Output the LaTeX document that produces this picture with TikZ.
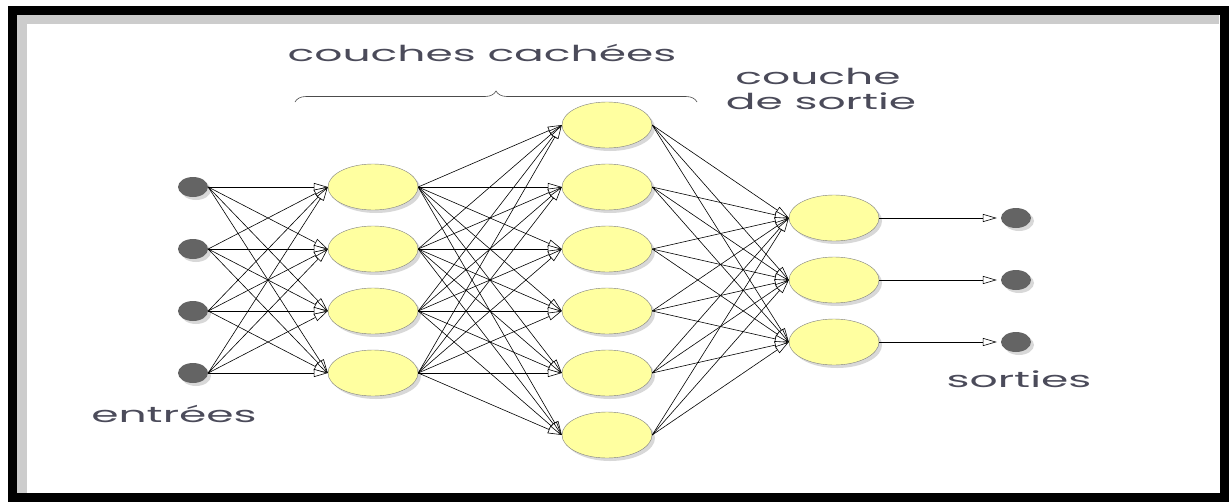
\documentclass[tikz,border=0pt]{standalone}
\usepackage{fontspec}
\setmainfont{Poppins}
\usetikzlibrary{arrows.meta,shadows,shapes.geometric,decorations.pathreplacing}
\definecolor{neurone}{RGB}{255,255,160}
\definecolor{point}{RGB}{100,100,100}
\definecolor{texte}{RGB}{75,75,90}
\newcommand{\etire}[1]{\scalebox{2.0}[1]{#1}}
\tikzset{
  neur/.style={ellipse,draw=gray,fill=neurone,minimum width=90pt,minimum height=46pt,inner sep=0pt,
    drop shadow={shadow xshift=3pt,shadow yshift=-3pt,opacity=.3}},
  pt/.style={ellipse,fill=point,minimum width=30pt,minimum height=20pt,inner sep=0pt,
    drop shadow={shadow xshift=3pt,shadow yshift=-3pt,opacity=.3}},
  lien/.style={black,line width=.6pt,-{Triangle[open,length=14pt,width=8pt,fill=white]}},
  lbl/.style={text=texte,font=\fontsize{22}{24}\selectfont,inner sep=0pt}
}
\begin{document}
\begin{tikzpicture}[x=1pt,y=-1pt]
            \useasboundingbox (0,0) rectangle (1229,501);
            \fill[white] (0,0) rectangle (1229,501);
            % cadre
            \fill[gray!40] (17,14) rectangle (1219,24);
            \fill[gray!40] (17,14) rectangle (27,493);
            \draw[black,line width=9pt] (12,10) rectangle (1224,497);
            % entrees
            \node[pt] (e1) at (193,187) {};
            \node[pt] (e2) at (193,249) {};
            \node[pt] (e3) at (193,311) {};
            \node[pt] (e4) at (193,373) {};
            % couche cachee 1
            \node[neur] (a1) at (373,187) {};
            \node[neur] (a2) at (373,249) {};
            \node[neur] (a3) at (373,311) {};
            \node[neur] (a4) at (373,373) {};
            % couche cachee 2
            \node[neur] (b1) at (607,125) {};
            \node[neur] (b2) at (607,187) {};
            \node[neur] (b3) at (607,249) {};
            \node[neur] (b4) at (607,311) {};
            \node[neur] (b5) at (607,373) {};
            \node[neur] (b6) at (607,435) {};
            % couche de sortie
            \node[neur] (c1) at (834,218) {};
            \node[neur] (c2) at (834,280) {};
            \node[neur] (c3) at (834,342) {};
            % sorties
            \node[pt] (s1) at (1016,218) {};
            \node[pt] (s2) at (1016,280) {};
            \node[pt] (s3) at (1016,342) {};
            % liens
            \foreach \i in {1,...,4}
              \foreach \j in {1,...,4}
                \draw[lien] (e\i.east) -- (a\j.west);
            \foreach \i in {1,...,4}
              \foreach \j in {1,...,6}
                \draw[lien] (a\i.east) -- (b\j.west);
            \foreach \i in {1,...,6}
              \foreach \j in {1,...,3}
                \draw[lien] (b\i.east) -- (c\j.west);
            \foreach \i in {1,2,3}
              \draw[lien,shorten >=4pt] (c\i.east) -- (s\i.west);
            % textes
            \node[lbl] (tcach) at (482,53) {\etire{couches cachées}};
            \node[lbl] (tcouche) at (818,76) {\etire{couche}};
            \node[lbl] (tsortie) at (821,101) {\etire{de sortie}};
            \node[lbl] (tsorties) at (1019,379) {\etire{sorties}};
            \node[lbl] (tentrees) at (174,414) {\etire{entrées}};
            \draw[black!70,line width=.6pt,decorate,decoration={brace,amplitude=11pt}] (295,102) -- (697,102);
        \end{tikzpicture}
\end{document}
